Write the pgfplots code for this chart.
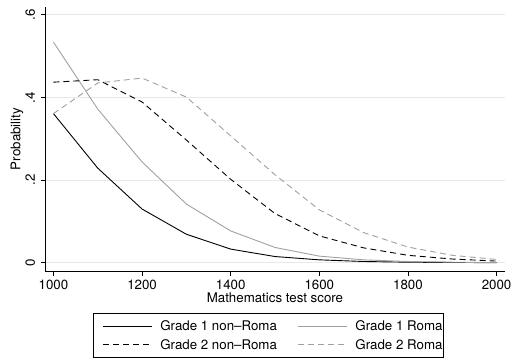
\documentclass[border=0pt]{standalone}
\usepackage{fontspec}
\setmainfont{TeX Gyre Heros}
\usepackage{pgfplots}
\pgfplotsset{compat=1.18}
\definecolor{gsten}{RGB}{160,160,160}
\definecolor{gridc}{RGB}{232,232,232}
\newcommand{\fs}{\fontsize{13.3}{15.5}\selectfont}
\begin{document}
\begin{tikzpicture}
\begin{axis}[
  at={(45pt,88pt)}, anchor=south west,
  scale only axis, width=460pt, height=264pt,
  xmin=981, xmax=2019, ymin=-0.020, ymax=0.619,
  axis x line*=bottom, axis y line*=left,
  axis line style={-, line width=0.8pt, black},
  xtick={1000,1200,1400,1600,1800,2000},
  xticklabels={1000,1200,1400,1600,1800,2000},
  ytick={0,0.2,0.4,0.6}, yticklabels={0,.2,.4,.6},
  tick align=outside, major tick length=4.5pt,
  tick style={line width=0.8pt, black},
  ymajorgrids, major grid style={gridc, line width=0.8pt},
  /pgf/number format/assume math mode=true,
  every tick label/.append style={font=\fs},
  yticklabel style={rotate=90, anchor=south},
  yticklabel shift=2pt,
  xticklabel shift=1pt,
  label style={font=\fs},
  xlabel={Mathematics test score},
  ylabel={Probability},
  xlabel style={at={(axis description cs:0.5,-0.102)}, anchor=center},
  ylabel style={at={(axis description cs:-0.061,0.5)}, anchor=center},
  legend columns=2,
  legend cell align=left,
  legend image code/.code={\draw[#1] (0pt,0pt) -- (49pt,0pt);},
  legend style={at={(axis description cs:0.105,-0.159)}, anchor=north west,
    draw=black, line width=0.8pt, inner xsep=8.7pt, inner ysep=8pt,
    column sep=0pt, row sep=8.9pt, font=\fs,
    nodes={inner xsep=0pt, inner ysep=0pt, text height=9.5pt, text depth=0pt}},
]
\addplot[black, line width=0.9pt] coordinates {
(1000,0.361) (1100,0.229) (1200,0.130) (1300,0.069) (1400,0.033) (1500,0.015)
(1600,0.007) (1700,0.003) (1800,0.0013) (1900,0.0006) (2000,0.0003)};
\addlegendentry{\makebox[145.7pt][l]{\hspace{8pt}Grade 1 non–Roma}}
\addplot[gsten, line width=0.9pt] coordinates {
(1000,0.534) (1100,0.372) (1200,0.244) (1300,0.142) (1400,0.077) (1500,0.037)
(1600,0.016) (1700,0.007) (1800,0.003) (1900,0.0013) (2000,0.0005)};
\addlegendentry{\makebox[87pt][l]{\hspace{7.6pt}Grade 1 Roma}}
\addplot[black, line width=0.9pt, dash pattern=on 6pt off 4pt] coordinates {
(1000,0.437) (1100,0.443) (1200,0.389) (1300,0.297) (1400,0.202) (1500,0.119)
(1600,0.065) (1700,0.036) (1800,0.018) (1900,0.009) (2000,0.004)};
\addlegendentry{\makebox[145.7pt][l]{\hspace{8pt}Grade 2 non–Roma}}
\addplot[gsten, line width=0.9pt, dash pattern=on 6pt off 4pt] coordinates {
(1000,0.361) (1100,0.435) (1200,0.447) (1300,0.401) (1400,0.307) (1500,0.213)
(1600,0.128) (1700,0.073) (1800,0.038) (1900,0.018) (2000,0.008)};
\addlegendentry{\makebox[87pt][l]{\hspace{7.6pt}Grade 2 Roma}}
\end{axis}
\pgfresetboundingbox
\path (0pt,0pt) rectangle (511pt,359pt);
\end{tikzpicture}
\end{document}
